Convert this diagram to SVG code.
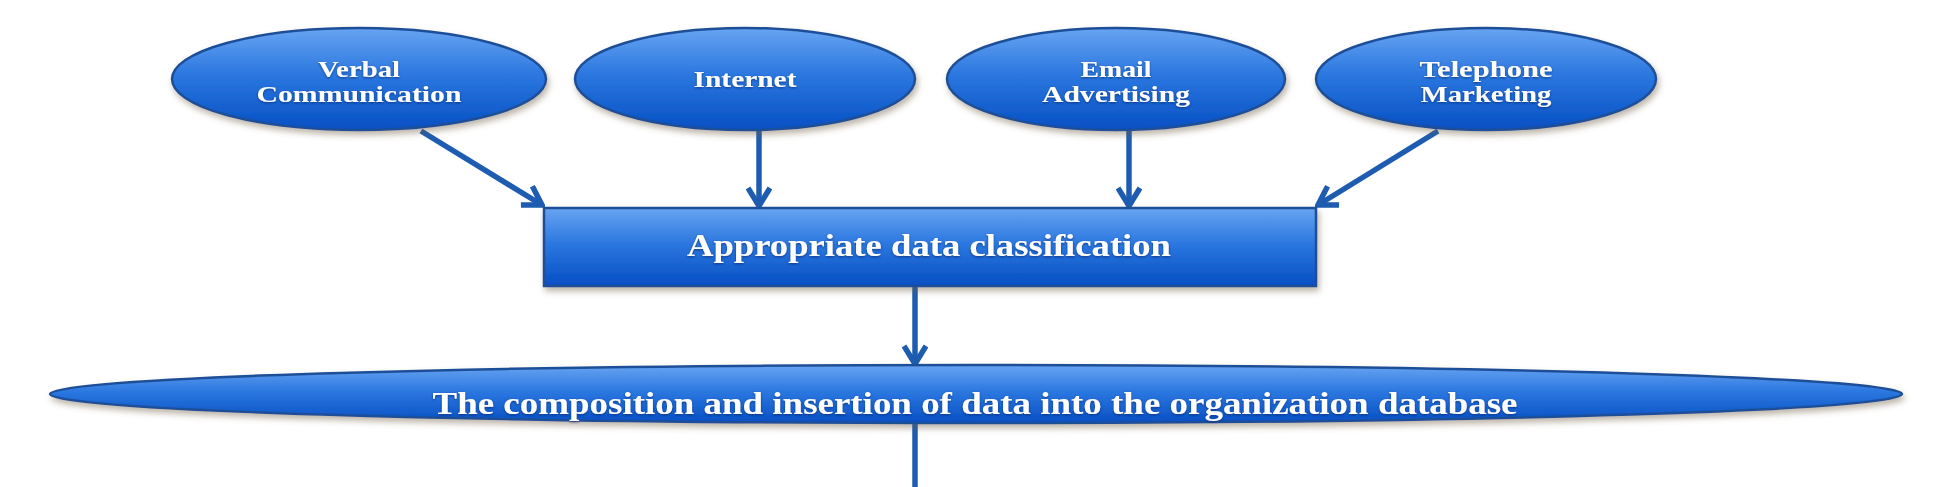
<svg xmlns="http://www.w3.org/2000/svg" width="1952" height="487" viewBox="0 0 1952 487">
<style>
.shape{fill:url(#g);stroke:#1f4f98;stroke-width:2.5;filter:url(#sh)}
.t{font-family:"Liberation Serif","DejaVu Serif",serif;font-weight:bold;fill:#ffffff;text-anchor:middle;filter:url(#ts)}
.s{font-size:24px}
.c{fill:none;stroke:#1d5cb0;stroke-width:5.5}
</style>
<defs>
<linearGradient id="g" x1="0" y1="0" x2="0" y2="1">
<stop offset="0" stop-color="#67a4f2"/>
<stop offset="0.45" stop-color="#2c78e0"/>
<stop offset="1" stop-color="#064fc4"/>
</linearGradient>
<filter id="sh" x="-10%" y="-20%" width="120%" height="160%">
<feDropShadow dx="2" dy="4" stdDeviation="3" flood-color="#6b5a40" flood-opacity="0.45"/>
</filter>
<filter id="ts" x="-5%" y="-30%" width="110%" height="160%">
<feDropShadow dx="0" dy="1" stdDeviation="0.8" flood-color="#0b2a66" flood-opacity="0.75"/>
</filter>
<marker id="ah" viewBox="0 0 26 26" refX="23" refY="13" markerWidth="26" markerHeight="26" markerUnits="userSpaceOnUse" orient="auto">
<path d="M5,2 L23,13 L5,24" fill="none" stroke="#1d5cb0" stroke-width="5.5"/>
</marker>
</defs>
<g id="connectors">
<line class="c" x1="421" y1="131" x2="542" y2="205" marker-end="url(#ah)"/>
<line class="c" x1="759" y1="131" x2="759" y2="206" marker-end="url(#ah)"/>
<line class="c" x1="1129" y1="131" x2="1129" y2="206" marker-end="url(#ah)"/>
<line class="c" x1="1438" y1="131" x2="1318" y2="205" marker-end="url(#ah)"/>
<line class="c" x1="915" y1="286" x2="915" y2="364" marker-end="url(#ah)"/>
<line class="c" x1="915" y1="423" x2="915" y2="487"/>
</g>
<g id="n-verbal">
<ellipse class="shape" cx="359" cy="79" rx="187" ry="51"/>
<text class="t s" x="359" y="77" textLength="82" lengthAdjust="spacingAndGlyphs">Verbal</text>
<text class="t s" x="359" y="102" textLength="205" lengthAdjust="spacingAndGlyphs">Communication</text>
</g>
<g id="n-internet">
<ellipse class="shape" cx="745" cy="79" rx="170" ry="51"/>
<text class="t s" x="745" y="87" textLength="103" lengthAdjust="spacingAndGlyphs">Internet</text>
</g>
<g id="n-email">
<ellipse class="shape" cx="1116" cy="79" rx="169" ry="51"/>
<text class="t s" x="1116" y="77" textLength="71" lengthAdjust="spacingAndGlyphs">Email</text>
<text class="t s" x="1116" y="102" textLength="148" lengthAdjust="spacingAndGlyphs">Advertising</text>
</g>
<g id="n-telephone">
<ellipse class="shape" cx="1486" cy="79" rx="170" ry="51"/>
<text class="t s" x="1486" y="77" textLength="133" lengthAdjust="spacingAndGlyphs">Telephone</text>
<text class="t s" x="1486" y="102" textLength="131" lengthAdjust="spacingAndGlyphs">Marketing</text>
</g>
<g id="n-classification">
<rect class="shape" x="544" y="208" width="772" height="78"/>
<text class="t" x="929" y="256" font-size="32" textLength="484" lengthAdjust="spacingAndGlyphs">Appropriate data classification</text>
</g>
<g id="n-database">
<ellipse class="shape" cx="976" cy="394" rx="926" ry="29"/>
<text class="t" x="975" y="414" font-size="31" textLength="1085" lengthAdjust="spacingAndGlyphs">The composition and insertion of data into the organization database</text>
</g>
</svg>
